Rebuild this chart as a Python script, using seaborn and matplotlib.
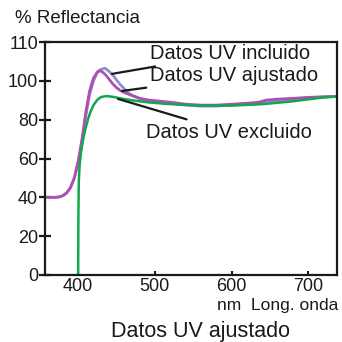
import matplotlib
matplotlib.use("Agg")
import matplotlib.pyplot as plt
import seaborn as sns
import pandas as pd

sns.set_theme(style="white")
plt.rcParams['font.family'] = ['Liberation Sans', 'DejaVu Sans']

# Data
wl_uv = [357, 370, 375, 380, 385, 390, 395, 400, 405, 410, 415, 420, 425, 430, 435, 440, 445,
         450, 455, 460, 465, 470, 480, 490, 500, 520, 540, 560, 580, 600, 620, 640, 660,
         680, 700, 720, 740]
incluido = [40, 40, 40.2, 40.8, 42.3, 45, 50, 57.5, 68, 82, 93, 100, 104.5, 106, 106.5, 105, 103,
            100.5, 98, 96, 94, 92.5, 91, 90, 89.5, 88.5, 87.5, 87, 87, 87.5, 88, 88.5, 89.5,
            90.5, 91.3, 91.7, 92]
wl_adj = [357, 370, 375, 380, 385, 390, 395, 400, 405, 410, 415, 420, 425, 428, 432, 436, 440,
          445, 450, 455, 460, 470, 480, 490, 500, 520, 540, 560, 580, 600, 620, 635, 645,
          660, 680, 700, 720, 740]
ajustado = [40, 40, 40.2, 40.8, 42.3, 45, 50, 58.5, 70, 84, 95, 101.5, 104.5, 105.3, 104.5, 103, 101,
            98.5, 96.5, 95, 94, 92.5, 91, 90.2, 89.8, 89, 88, 87.5, 87.5, 88, 88.5, 89, 90.1,
            90.6, 91, 91.5, 91.8, 92]
wl_excl = [400, 400.3, 400.8, 402, 404, 407, 410, 413, 416, 420, 425, 430, 437, 445, 455,
           470, 490, 510, 530, 560, 600, 640, 680, 700, 720, 740]
excluido = [0, 30, 48, 57, 64, 71, 76, 80.5, 84, 87.5, 90.3, 91.7, 92.2, 91.8, 91, 90, 89,
            88.3, 87.8, 87.3, 87.3, 88, 89.5, 90.5, 91.5, 92]

ytick_vals = [0, 20, 40, 60, 80, 100, 120]
ytick_labels = ['0', '20', '40', '60', '80', '100', '110']
xtick_vals = [400, 500, 600, 700]

fig = plt.figure(figsize=(3.42, 3.42), dpi=100)
ax = fig.add_axes([0.132, 0.196, 0.853, 0.681])

df_inc = pd.DataFrame({'wl': wl_uv, 'r': incluido})
df_adj = pd.DataFrame({'wl': wl_adj, 'r': ajustado})
df_exc = pd.DataFrame({'wl': wl_excl, 'r': excluido})

sns.lineplot(data=df_inc, x='wl', y='r', ax=ax, color='#8c8fd2', lw=2.0, sort=False)
sns.lineplot(data=df_adj, x='wl', y='r', ax=ax, color='#b04fb2', lw=2.0, sort=False)
sns.lineplot(data=df_exc, x='wl', y='r', ax=ax, color='#12a64e', lw=1.8, sort=False)

ax.set_xlim(357, 737)
ax.set_ylim(0, 120)
ax.set_yticks(ytick_vals)
ax.set_yticklabels(ytick_labels)
ax.set_xticks(xtick_vals)
ax.set_xlabel('')
ax.set_ylabel('')
for s in ax.spines.values():
    s.set_visible(True)
    s.set_color('#1a1a1a')
    s.set_linewidth(1.6)
ax.tick_params(axis='y', direction='inout', length=8, width=1.6, color='#1a1a1a',
               labelsize=13, pad=1, left=True, labelcolor='#1a1a1a')
ax.tick_params(axis='x', direction='in', length=3, width=1.5, color='#1a1a1a',
               labelsize=13, pad=2, bottom=True, labelcolor='#1a1a1a')

txt_kw = dict(fontsize=14.5, color='#1a1a1a', va='center', ha='left',
              arrowprops=dict(arrowstyle='-', color='#1a1a1a', lw=1.6, shrinkA=0, shrinkB=0))
ax.annotate('Datos UV incluido', xy=(444, 103.6), xytext=(493, 114), **txt_kw)
ax.annotate('Datos UV ajustado', xy=(457, 94.8), xytext=(493, 102.6), **txt_kw)
ax.annotate('Datos UV excluido', xy=(452, 90.7), xytext=(489, 73.6), **txt_kw)

fig.text(0.044, 0.947, '% Reflectancia', fontsize=13.5, color='#1a1a1a', va='center', ha='left')
fig.text(0.988, 0.108, 'nm  Long. onda', fontsize=12.5, color='#1a1a1a', va='center', ha='right')
fig.text(0.585, 0.03, 'Datos UV ajustado', fontsize=15.5, color='#1a1a1a', va='center', ha='center')

fig.savefig('out.png', dpi=100)
